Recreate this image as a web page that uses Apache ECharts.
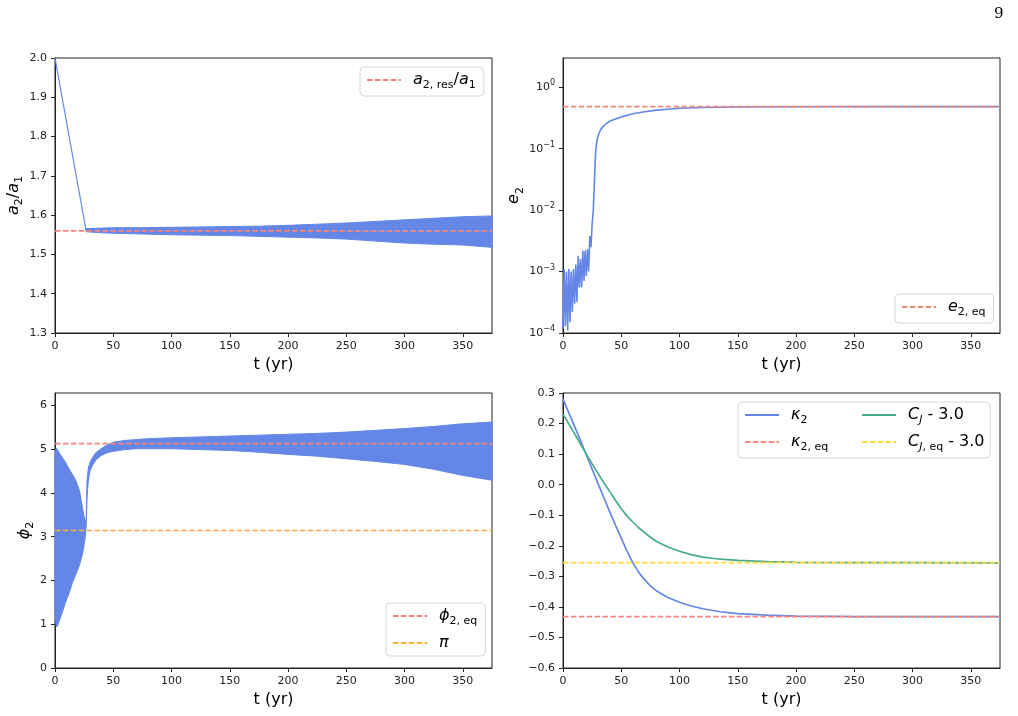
<!DOCTYPE html>
<html>
<head>
<meta charset="utf-8">
<script src="https://cdn.jsdelivr.net/npm/echarts@6/dist/echarts.min.js"></script>
<style>
html, body { margin: 0; padding: 0; background: #fff; }
#chart { width: 1018px; height: 716px; }
</style>
</head>
<body>
<div id="chart"></div>
<script>
// a2 / a1
const a2Start = [[0, 2.0], [26.6, 1.562]]
const a2BandT = [26.6, 30, 40, 50, 75, 100, 125, 150, 175, 200, 225, 250, 275, 300, 325, 350, 375]
const a2BandHi = [1.566, 1.566, 1.567, 1.568, 1.568, 1.569, 1.570, 1.571, 1.572, 1.574, 1.577, 1.580, 1.584, 1.588, 1.592, 1.596, 1.598]
const a2BandLo = [1.558, 1.557, 1.555, 1.554, 1.552, 1.550, 1.549, 1.548, 1.546, 1.544, 1.542, 1.539, 1.534, 1.529, 1.526, 1.524, 1.518]
const a2Res = 1.56

// e2
const e2T = [0, 1, 2, 3, 4, 5, 6, 7, 8, 9, 10, 11, 12, 13, 14, 15, 16, 17, 18, 19, 20, 21, 22, 23, 24, 25, 26, 27,
    28, 29, 30, 32, 34, 37, 40, 45, 50, 60, 70, 80, 90, 100, 120, 150, 200, 250, 300, 375]
const e2Val = [1.2e-4, 1.1e-3, 1.3e-4, 1.0e-3, 1.1e-4, 1.1e-3, 1.5e-4, 1.0e-3, 2.2e-4, 1.1e-3, 3.0e-4, 1.3e-3, 3.2e-4, 1.8e-3,
    5.5e-4, 1.6e-3, 5.5e-4, 2.2e-3, 7.0e-4, 2.2e-3, 8.5e-4, 2.3e-3, 1.0e-3, 3.8e-3, 2.5e-3, 6.0e-3, 1.0e-2, 3.0e-2,
    0.09, 0.13, 0.16, 0.2, 0.225, 0.255, 0.28, 0.305, 0.33, 0.37, 0.40, 0.425, 0.44, 0.455, 0.468, 0.478, 0.482, 0.484, 0.484, 0.484]
const e2Eq = 0.484

// phi2
const phiT = [0, 1, 2, 4, 6, 9, 12, 15, 18, 21, 24, 26, 26.8, 27.5, 28.5, 30, 32, 35, 40, 45, 50, 60, 70, 80, 100,
    125, 150, 175, 200, 225, 250, 275, 300, 325, 350, 375]
const phiHi = [4.9, 5.02, 5.0, 4.9, 4.82, 4.7, 4.55, 4.42, 4.28, 4.05, 3.6, 3.3, 3.45, 4.3, 4.55, 4.7, 4.8, 4.92, 5.02, 5.1,
    5.16, 5.2, 5.22, 5.24, 5.26, 5.28, 5.30, 5.32, 5.34, 5.36, 5.39, 5.43, 5.47, 5.52, 5.58, 5.62]
const phiLo = [1.3, 0.95, 0.95, 1.1, 1.25, 1.5, 1.7, 1.95, 2.15, 2.35, 2.65, 3.0, 3.25, 3.9, 4.25, 4.5, 4.62, 4.75, 4.86,
    4.92, 4.95, 4.99, 5.01, 5.01, 5.01, 4.99, 4.97, 4.93, 4.88, 4.84, 4.78, 4.72, 4.65, 4.54, 4.40, 4.29]
const phiEq = 5.125
const piVal = Math.PI

// kappa2 and C_J
const kT = [0, 5, 10, 15, 20, 25, 30, 35, 40, 45, 50, 55, 60, 65, 70, 75, 80, 90, 100, 110, 120, 135, 150, 175, 200, 250, 300, 375]
const kappa = [0.280, 0.235, 0.190, 0.145, 0.098, 0.051, 0.004, -0.042, -0.088, -0.132, -0.175, -0.218, -0.256, -0.287,
    -0.311, -0.331, -0.347, -0.369, -0.385, -0.397, -0.406, -0.416, -0.422, -0.427, -0.430, -0.432, -0.432, -0.432]
const cj = [0.231, 0.199, 0.166, 0.133, 0.100, 0.068, 0.037, 0.007, -0.022, -0.051, -0.079, -0.103, -0.123, -0.141,
    -0.157, -0.172, -0.185, -0.204, -0.218, -0.229, -0.237, -0.244, -0.248, -0.252, -0.254, -0.255, -0.255, -0.256]
const kappaEq = -0.432
const cjEq = -0.255

const tMax = 375

const blue = '#6487E7'
const red = '#F4857B'
const orange = '#FFAD3F'
const green = '#45AC8C'
const yellow = '#FFDD33'
const font = 'DejaVu Sans'
const dash = [5.5, 2.4]

const mathRich = {
    i: { fontStyle: 'italic', fontSize: 16, fontFamily: font, lineHeight: 22, verticalAlign: 'middle', color: '#000' },
    r: { fontSize: 16, fontFamily: font, lineHeight: 22, verticalAlign: 'middle', color: '#000' },
    s: { fontSize: 11, fontFamily: font, lineHeight: 12, verticalAlign: 'bottom', color: '#000' },
    si: { fontSize: 11, fontStyle: 'italic', fontFamily: font, lineHeight: 12, verticalAlign: 'bottom', color: '#000' },
}

const legendText = {
    a2res: '{i|a}{s|2, res}{r|/}{i|a}{s|1}',
    e2eq: '{i|e}{s|2, eq}',
    phiEq: '{i|ϕ}{s|2, eq}',
    pi: '{i|π}',
    kappa2: '{i|κ}{s|2}',
    kappaEq: '{i|κ}{s|2, eq}',
    cj: '{i|C}{si|J}{r| - 3.0}',
    cjEq: '{i|C}{si|J}{s|, eq}{r| - 3.0}',
}

const grids = [
    { left: 55, top: 58, width: 437, height: 275 },
    { left: 563, top: 58, width: 437, height: 275 },
    { left: 55, top: 393, width: 437, height: 275 },
    { left: 563, top: 393, width: 437, height: 275 },
].map(g => ({ ...g, show: true, borderColor: '#222', borderWidth: 1 }))

const axisCommon = {
    axisLine: { show: true, onZero: false, lineStyle: { color: '#222', width: 1 } },
    axisTick: { show: true, length: 4, lineStyle: { color: '#222' } },
    splitLine: { show: false },
}

const xAxes = [0, 1, 2, 3].map(gi => ({
    ...axisCommon,
    type: 'value', gridIndex: gi, min: 0, max: tMax, interval: 50,
    name: 't (yr)', nameLocation: 'middle', nameGap: 24,
    nameTextStyle: { fontSize: 16, color: '#000', fontFamily: font },
    axisLabel: { color: '#222', fontSize: 11, fontFamily: font, margin: 8, showMaxLabel: false },
}))

const fmt1 = v => {
    if (Math.abs(v) < 1e-9) return '0.0'
    const s = v.toFixed(1)
    return v < 0 ? '\u2212' + s.slice(1) : s
}

const yLabelBase = { color: '#222', fontSize: 11, fontFamily: font, margin: 8, showMaxLabel: false }

const yAxes = [
    {
        ...axisCommon, type: 'value', gridIndex: 0, min: 1.3, max: 2.0, interval: 0.1,
        name: '{i|a}{s|2}{r|/}{i|a}{s|1}', nameLocation: 'middle', nameRotate: 90, nameGap: 30,
        nameTextStyle: { rich: mathRich },
        axisLabel: { ...yLabelBase, showMaxLabel: true, formatter: fmt1 },
    },
    {
        ...axisCommon, type: 'log', logBase: 10, gridIndex: 1, min: 1e-4, max: 3,
        name: '{i|e}{s|2}', nameLocation: 'middle', nameRotate: 90, nameGap: 36,
        nameTextStyle: { rich: mathRich },
        axisLabel: {
            ...yLabelBase,
            formatter: v => {
                const e = Math.round(Math.log10(v))
                return '{b|10}{p|' + String(e).replace('-', '\u2212') + '}'
            },
            rich: {
                b: { fontSize: 11, fontFamily: font, color: '#222', lineHeight: 16, verticalAlign: 'middle' },
                p: { fontSize: 8, fontFamily: font, color: '#222', lineHeight: 9, verticalAlign: 'top' },
            },
        },
    },
    {
        ...axisCommon, type: 'value', gridIndex: 2, min: 0, max: 2 * Math.PI, interval: 1,
        name: '{i|ϕ}{s|2}', nameLocation: 'middle', nameRotate: 90, nameGap: 19,
        nameTextStyle: { rich: mathRich },
        axisLabel: { ...yLabelBase, formatter: v => String(Math.round(v)) },
    },
    {
        ...axisCommon, type: 'value', gridIndex: 3, min: -0.6, max: 0.3, interval: 0.1,
        axisLabel: { ...yLabelBase, showMaxLabel: true, formatter: fmt1 },
    },
]

function bandSeries(gi, ts, lo, hi) {
    return {
        type: 'custom', xAxisIndex: gi, yAxisIndex: gi, silent: true,
        data: ts.map((t, i) => [t, lo[i], hi[i]]),
        encode: { x: 0, y: [1, 2] },
        renderItem: (params, api) => {
            if (params.dataIndex !== 0) return null
            const top = ts.map((t, i) => api.coord([t, hi[i]]))
            const bottom = ts.map((t, i) => api.coord([t, lo[i]])).reverse()
            return {
                type: 'polygon',
                shape: { points: top.concat(bottom) },
                style: { fill: blue, stroke: blue, lineWidth: 1 },
            }
        },
    }
}

function hLine(gi, name, v, color) {
    return {
        type: 'line', name, xAxisIndex: gi, yAxisIndex: gi, symbol: 'none', silent: true,
        data: [[0, v], [tMax, v]],
        lineStyle: { color, width: 1.7, type: dash },
        itemStyle: { color },
    }
}

function curve(gi, name, ts, vals, color, width) {
    return {
        type: 'line', name, xAxisIndex: gi, yAxisIndex: gi, symbol: 'none', silent: true,
        data: ts.map((t, i) => [t, vals[i]]),
        lineStyle: { color, width },
        itemStyle: { color },
    }
}

const legendBase = {
    orient: 'vertical', itemWidth: 34, itemHeight: 14, itemGap: 8,
    backgroundColor: 'rgba(255,255,255,0.85)', borderColor: '#d6d6d6', borderWidth: 1, borderRadius: 4,
    selectedMode: false,
    itemStyle: { opacity: 0 },
    formatter: name => legendText[name],
    textStyle: { rich: mathRich, padding: [0, 0, 0, 7] },
}

const chart = echarts.init(document.getElementById('chart'), null, { renderer: 'canvas' })
chart.setOption({
    animation: false,
    backgroundColor: '#fff',
    grid: grids,
    xAxis: xAxes,
    yAxis: yAxes,
    legend: [
        { ...legendBase, data: ['a2res'], left: 360, top: 67, padding: [5, 8, 5, 6] },
        { ...legendBase, data: ['e2eq'], left: 895, top: 294, padding: [5, 8, 5, 6] },
        { ...legendBase, data: ['phiEq', 'pi'], left: 386, top: 603, padding: [5, 8, 5, 6] },
        { ...legendBase, data: ['kappa2', 'kappaEq'], left: 738, top: 402, padding: [5, 162, 5, 6] },
        { ...legendBase, data: ['cj', 'cjEq'], left: 855, top: 402, padding: [5, 8, 5, 6],
          backgroundColor: 'transparent', borderWidth: 0 },
    ],
    graphic: [
        { type: 'text', left: 994, top: 7, style: { text: '9', fontSize: 15, fontFamily: 'DejaVu Serif', fill: '#000' } },
    ],
    series: [
        bandSeries(0, a2BandT, a2BandLo, a2BandHi),
        curve(0, 'a2', a2Start.map(p => p[0]), a2Start.map(p => p[1]), blue, 1.2),
        hLine(0, 'a2res', a2Res, red),

        curve(1, 'e2', e2T, e2Val, blue, 1.6),
        hLine(1, 'e2eq', e2Eq, red),

        bandSeries(2, phiT, phiLo, phiHi),
        hLine(2, 'phiEq', phiEq, red),
        hLine(2, 'pi', piVal, orange),

        curve(3, 'kappa2', kT, kappa, blue, 1.7),
        curve(3, 'cj', kT, cj, green, 1.7),
        hLine(3, 'kappaEq', kappaEq, red),
        hLine(3, 'cjEq', cjEq, yellow),
    ],
})
</script>
</body>
</html>
